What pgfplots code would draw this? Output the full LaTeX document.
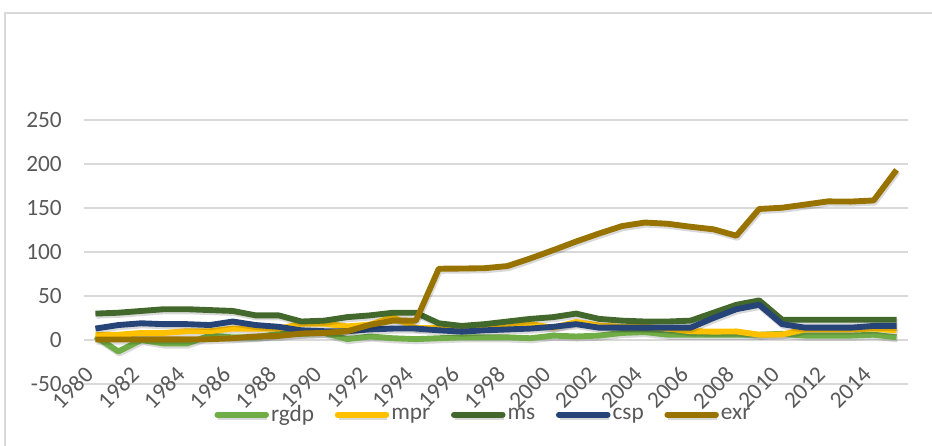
\documentclass[border=0pt]{standalone}
\usepackage{pgfplots}
\pgfplotsset{compat=1.18}
\usepackage{pgfplotstable}
\usepackage{fontspec}
\setmainfont{Carlito}
\definecolor{cRgdp}{HTML}{70AD47}
\definecolor{cMpr}{HTML}{FFC000}
\definecolor{cMs}{HTML}{43682B}
\definecolor{cCsp}{HTML}{264478}
\definecolor{cExr}{HTML}{997300}
\definecolor{gridc}{HTML}{D9D9D9}
\definecolor{txt}{HTML}{595959}

\pgfplotstableread{
year rgdp mpr ms csp exr
1980 4 6 30 13 0.55
1981 -13 6 31 17 0.61
1982 0 8 33 19 0.67
1983 -4 8 35 18 0.72
1984 -4 10 35 18 0.76
1985 5 10 34 17 0.89
1986 3 13 33 21 2.02
1987 3 12.75 28 17 4.02
1988 7 12.75 28 15 4.54
1989 7 18.5 21 11 7.39
1990 8 18.5 22 10 8.04
1991 1 15.5 26 10 9.91
1992 4 17.5 28 12 17.3
1993 2 26 31 13 22.05
1994 1 13.5 31 13 21.89
1995 2 13.5 19 11 81.0
1996 3 13.5 16 9.5 81.2
1997 3 13.5 18 11 81.6
1998 3 14.3 21 12 84.0
1999 2 18 24 13 92.7
2000 5 14 26 15 102.1
2001 4 20.5 30 18 111.9
2002 5 16.5 24 14 121.0
2003 8 15 22 14 129.4
2004 9 15 21 14 133.5
2005 6 13 21 14 132.1
2006 6 10 22 14 128.7
2007 6 9.5 31 25 125.8
2008 6 9.75 40 35 118.5
2009 6 6 45 40 148.9
2010 7 6.25 23 18 150.3
2011 5 12 23 14 153.9
2012 5 12 23 14 157.5
2013 5 12 23 14 157.3
2014 6 13 23 16 158.6
2015 3 11 23 16 193.3
}\datatable

\newcommand\chartfont{\fontsize{17.5}{20}\selectfont}

\begin{document}
\begin{tikzpicture}[x=1pt,y=1pt]
\useasboundingbox (-63,-46.5) rectangle (636,288);
\draw[gridc, line width=1pt] (-59.25,-90) rectangle (740,278.25);
\begin{axis}[
  at={(0,0)}, anchor=south west,
  scale only axis, width=618pt, height=198pt,
  xmin=1979.5, xmax=2015.5, ymin=-50, ymax=250,
  ytick={-50,0,50,100,150,200,250},
  yticklabels={-50,0,50,100,150,200,250},
  xtick={1980,1982,1984,1986,1988,1990,1992,1994,1996,1998,2000,2002,2004,2006,2008,2010,2012,2014},
  xticklabels={1980,1982,1984,1986,1988,1990,1992,1994,1996,1998,2000,2002,2004,2006,2008,2010,2012,2014},
  axis line style={draw=none}, major tick length=0pt,
  ymajorgrids, grid style={gridc, line width=0.9pt},
  yticklabel style={font=\chartfont, text=txt, anchor=east, inner sep=0pt, xshift=-16.5pt},
  xticklabel style={font=\chartfont, text=txt, rotate=45, anchor=north east, inner sep=0pt, xshift=3.75pt, yshift=16.5pt},
  clip=false,
  legend columns=-1,
  legend style={draw=none, fill=none, font=\chartfont, text=txt,
    at={(axis description cs:0.4848,0)}, anchor=center, yshift=-23pt,
    /tikz/every even column/.append style={column sep=14pt},
    nodes={inner sep=1.5pt}},
  legend image code/.code={\draw[#1, line cap=round] (0pt,0pt) -- (36.5pt,0pt);},
  every axis plot/.append style={line width=4.4pt, line join=round, no markers,
    preaction={draw=black, draw opacity=0.15, transform canvas={xshift=0.8pt,yshift=-1.6pt}}},
]
\addplot[cRgdp] table[x=year, y=rgdp] {\datatable};
\addlegendentry{rgdp}
\addplot[cMpr] table[x=year, y=mpr] {\datatable};
\addlegendentry{mpr}
\addplot[cMs] table[x=year, y=ms] {\datatable};
\addlegendentry{ms}
\addplot[cCsp] table[x=year, y=csp] {\datatable};
\addlegendentry{csp}
\addplot[cExr] table[x=year, y=exr] {\datatable};
\addlegendentry{exr}
\end{axis}
\end{tikzpicture}
\end{document}
